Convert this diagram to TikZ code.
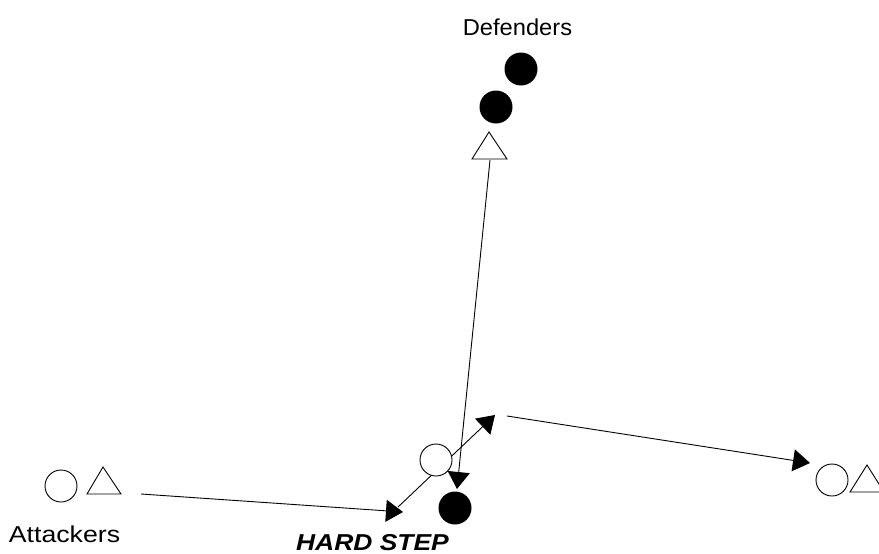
\documentclass[tikz,border=0pt]{standalone}
\usepackage{fontspec}
\setmainfont{Liberation Sans}
\usetikzlibrary{arrows.meta}
\tikzset{
  player/.style={circle,draw=black,line width=0.9pt,fill=white,minimum size=32pt,inner sep=0pt},
  defender/.style={circle,fill=black,minimum size=33pt,inner sep=0pt},
  cone/.style={draw=black,line width=0.9pt,fill=white,line join=miter},
  run/.style={draw=black,line width=0.9pt,-{Triangle[length=17pt,width=22pt]}},
  plain/.style={draw=black,line width=0.9pt},
  label/.style={inner sep=0pt,anchor=base,font=\fontsize{23}{26}\selectfont}
}
\begin{document}
\begin{tikzpicture}[x=1pt,y=-1pt]
\useasboundingbox (0,0) rectangle (879,554);
% defenders
\node[label] (deftext) at (517.5,35) {\scalebox{1.03}[1]{Defenders}};
\node[defender] (d1) at (521,69) {};
\node[defender] (d2) at (496,107) {};
\draw[cone] (489,132) -- (507,159) -- (472,159) -- cycle;
\coordinate (tbase) at (490,160);
% attackers left
\node[player] (a1) at (61,486) {};
\draw[cone] (103,467) -- (121,494) -- (87,494) -- cycle;
\node[label] (atttext) at (64.5,542) {\scalebox{1.16}[1]{Attackers}};
% attackers right
\node[player] (b1) at (832,480) {};
\draw[cone] (867,465) -- (884,492) -- (850,492) -- cycle;
% connectors
\coordinate (lstart) at (141,494);
\coordinate (ltip) at (403,512);
\coordinate (dstart) at (398,507);
\coordinate (dtip) at (495,415);
\coordinate (vtip) at (457,489);
\coordinate (rstart) at (507,416);
\coordinate (rtip) at (810,463);
\draw[run] (lstart) -- (ltip);
\draw[run] (dstart) -- (dtip);
\draw[run] (tbase) -- (vtip);
\draw[run] (rstart) -- (rtip);
% center players
\node[player] (c) at (436,460) {};
\node[defender] (d3) at (455,508) {};
\node[label,font=\fontsize{23}{26}\selectfont\bfseries\itshape] (hard) at (372.5,550) {\scalebox{1.15}[1]{HARD STEP}};
\end{tikzpicture}
\end{document}
